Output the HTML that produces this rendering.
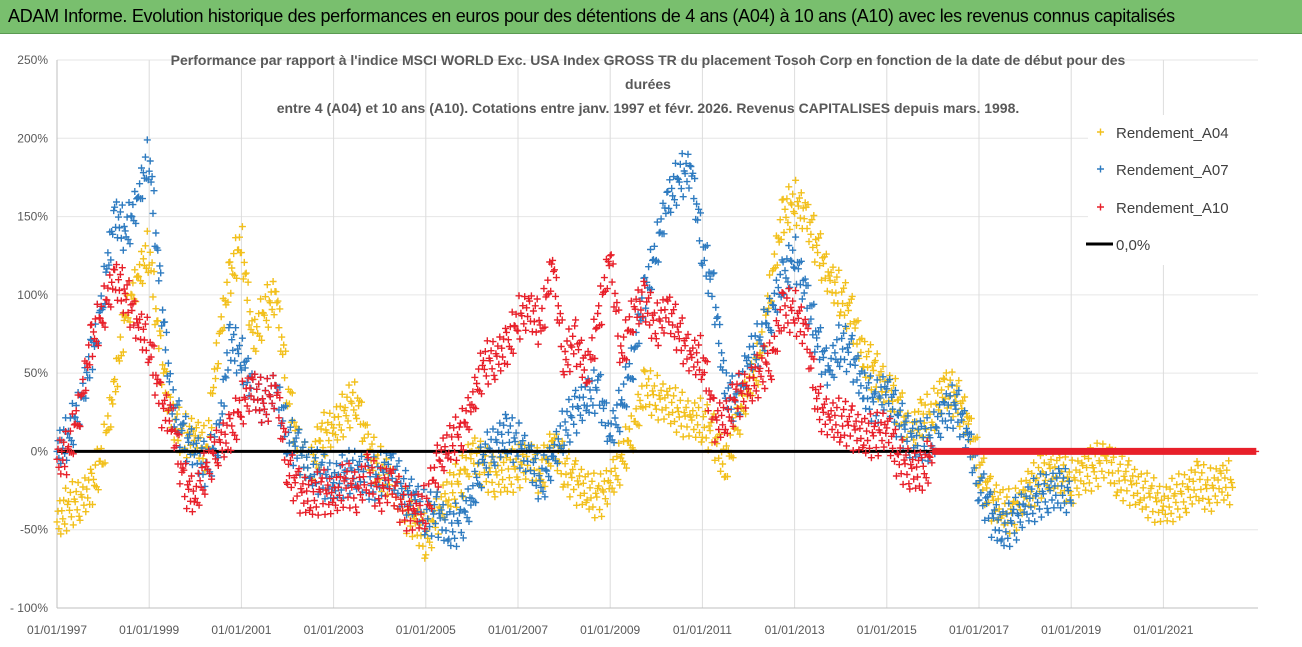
<!DOCTYPE html>
<html><head><meta charset="utf-8"><style>
html,body{margin:0;padding:0;background:#fff;}
body{width:1302px;height:647px;overflow:hidden;font-family:"Liberation Sans",sans-serif;}
#hdr{position:absolute;left:0;top:0;width:1302px;height:33px;background:#79bf6e;border-bottom:1px solid #5a9a52;}
#hdr span{position:absolute;left:8px;top:6px;font-size:18px;color:#000;white-space:nowrap;letter-spacing:-0.3px;}
svg{position:absolute;left:0;top:0;}
</style></head><body>
<div id="hdr"><span>ADAM Informe. Evolution historique des performances en euros pour des détentions de 4 ans (A04) à 10 ans (A10) avec les revenus connus capitalisés</span></div>
<svg id="chart" width="1302" height="647"></svg>
<script>
const startYear = 1997;
const step = 0.25;
const a04Values = [-45,-35,-30,-25,0,40,90,110,130,60,20,10,10,0,70,110,135,70,90,100,40,0,-10,10,15,25,35,0,-10,-20,-35,-45,-55,-40,-25,-20,0,-10,-15,-15,-10,-5,-15,5,-10,-20,-25,-30,-20,-5,15,40,35,30,25,20,20,10,-10,20,40,60,110,150,160,150,130,110,100,85,60,50,40,30,10,20,25,40,35,20,-10,-30,-35,-40,-25,-20,-10,-15,-20,-15,-10,-5,-15,-20,-25,-30,-35,-30,-25,-20,-25,-20,-20];
const a07Values = [0,10,30,60,100,150,140,160,190,100,30,10,0,-10,10,70,60,40,30,40,10,0,-10,-15,-20,-15,-10,-20,-15,-10,-25,-30,-40,-40,-50,-45,-30,-5,5,10,5,-5,-20,-5,15,25,35,40,10,30,60,100,130,160,175,180,130,100,40,30,60,70,90,110,125,100,70,50,70,60,40,30,40,20,10,5,10,25,30,10,-20,-40,-50,-45,-35,-30,-25,-25,-25];
const a10Values = [-5,0,30,70,90,110,100,80,70,30,20,-20,-30,-10,5,10,30,40,30,40,-10,-25,-30,-25,-30,-20,-25,-15,-25,-20,-35,-40,-35,-10,5,10,30,55,60,65,85,90,80,120,60,70,50,85,125,60,90,95,80,90,75,60,60,20,20,35,40,50,60,90,90,75,30,20,20,15,10,10,15,-5,-10,-15,0,0,0,0,0,0,0,0,0,0,0,0,0,0,0,0,0,0,0,0,0,0,0,0,0,0,0,0,0];
const yTicks = [250,200,150,100,50,0,-50,-100];
const yTickLabels = ["250%","200%","150%","100%","50%","0%","-50%","- 100%"];
const xTickYears = [1997,1999,2001,2003,2005,2007,2009,2011,2013,2015,2017,2019,2021];
const xTickLabels = ["01/01/1997","01/01/1999","01/01/2001","01/01/2003","01/01/2005","01/01/2007","01/01/2009","01/01/2011","01/01/2013","01/01/2015","01/01/2017","01/01/2019","01/01/2021"];

const NS="http://www.w3.org/2000/svg";
const svg=document.getElementById('chart');
const X0=57,X1=1258,Y0=60,Y1=608;
const xMin=1997,xMax=1997+(X1-X0)/46.1;
function xs(t){return X0+(t-xMin)/(xMax-xMin)*(X1-X0);}
function ys(v){return Y1-(v+100)/350*(Y1-Y0);}
function mk(tag,attrs){const e=document.createElementNS(NS,tag);for(const k in attrs)e.setAttribute(k,attrs[k]);svg.appendChild(e);return e;}

yTicks.forEach((v,i)=>{
  const g=mk('line',{x1:X0,x2:X1,y1:ys(v),y2:ys(v),stroke:'#e6e6e6','stroke-width':1});
  
  
  const t=mk('text',{x:48,y:ys(v)+4,'text-anchor':'end','font-size':12,fill:'#595959'});
  t.textContent=yTickLabels[i];
  
  
});
xTickYears.forEach((yr,i)=>{
  const g=mk('line',{x1:xs(yr),x2:xs(yr),y1:Y0,y2:Y1,stroke:'#dcdcdc','stroke-width':1});
  
  
  const t=mk('text',{x:xs(yr),y:634,'text-anchor':'middle','font-size':12,fill:'#595959'});
  t.textContent=xTickLabels[i];
  
  
});
const ax=mk('line',{x1:X0,x2:X0,y1:Y0,y2:Y1,stroke:'#bfbfbf'});


const bx=mk('line',{x1:X0,x2:X1,y1:Y1,y2:Y1,stroke:'#bfbfbf'});



const spread=[0,6,-6,11,-11,3,-3,8,-8,14,-14,2];
function series(vals,color,name){
  const g=mk('g',{stroke:color,'stroke-width':1.4,fill:'none'});
  
  
  let d='';
  const N=12;
  for(let i=0;i<vals.length;i++){
    const sub=(i<vals.length-1)?N:1;
    for(let s=0;s<sub;s++){
      const f=s/N;
      const v=(i<vals.length-1)?vals[i]*(1-f)+vals[i+1]*f:vals[i];
      const off=(vals[i]===0&&(i+1>=vals.length||vals[i+1]===0))?0:spread[(i*5+s)%12];
      const x=xs(startYear+(i+f)*step), y=ys(v+off);
      d+=`M${(x-3.5).toFixed(1)} ${y.toFixed(1)}h7M${x.toFixed(1)} ${(y-3.5).toFixed(1)}v7`;
    }
  }
  const p=document.createElementNS(NS,'path');p.setAttribute('d',d);g.appendChild(p);
}
series(a04Values,'#f2c01c','series-a04');
series(a07Values,'#2e7bc0','series-a07');
const zl=mk('line',{x1:X0,x2:1256,y1:ys(0),y2:ys(0),stroke:'#000','stroke-width':3});


series(a10Values,'#e8202a','series-a10');

const titles=[["Performance par rapport à l'indice MSCI WORLD Exc. USA Index GROSS TR  du placement Tosoh Corp en fonction de la date de début pour des",65],["durées",89],["entre 4 (A04) et 10 ans (A10). Cotations entre janv. 1997 et févr. 2026. Revenus CAPITALISES depuis mars. 1998.",113]];
titles.forEach(([s,y])=>{
  const t=mk('text',{x:648,y:y,'text-anchor':'middle','font-size':14,'font-weight':'bold',fill:'#595959'});
  t.textContent=s;
  
  
});

const lb=mk('rect',{x:1088,y:115,width:172,height:150,fill:'#fff'});


const legItems=[["Rendement_A04",'#f2c01c',132],["Rendement_A07",'#2e7bc0',169],["Rendement_A10",'#e8202a',207]];
legItems.forEach(([s,c,y])=>{
  const g=mk('g',{});
  
  
  const p=document.createElementNS(NS,'path');p.setAttribute('d',`M1097 ${y}h7M1100.5 ${y-3.5}v7`);p.setAttribute('stroke',c);p.setAttribute('stroke-width',1.4);g.appendChild(p);
  const t=document.createElementNS(NS,'text');t.setAttribute('x',1116);t.setAttribute('y',y+6);t.setAttribute('font-size',15);t.setAttribute('fill','#404040');t.textContent=s;g.appendChild(t);
});
const lg=mk('g',{});


const ll=document.createElementNS(NS,'line');ll.setAttribute('x1',1086);ll.setAttribute('x2',1113);ll.setAttribute('y1',244);ll.setAttribute('y2',244);ll.setAttribute('stroke','#000');ll.setAttribute('stroke-width',3);lg.appendChild(ll);
const lt=document.createElementNS(NS,'text');lt.setAttribute('x',1116);lt.setAttribute('y',250);lt.setAttribute('font-size',15);lt.setAttribute('fill','#404040');lt.textContent='0,0%';lg.appendChild(lt);
</script>
</body></html>
